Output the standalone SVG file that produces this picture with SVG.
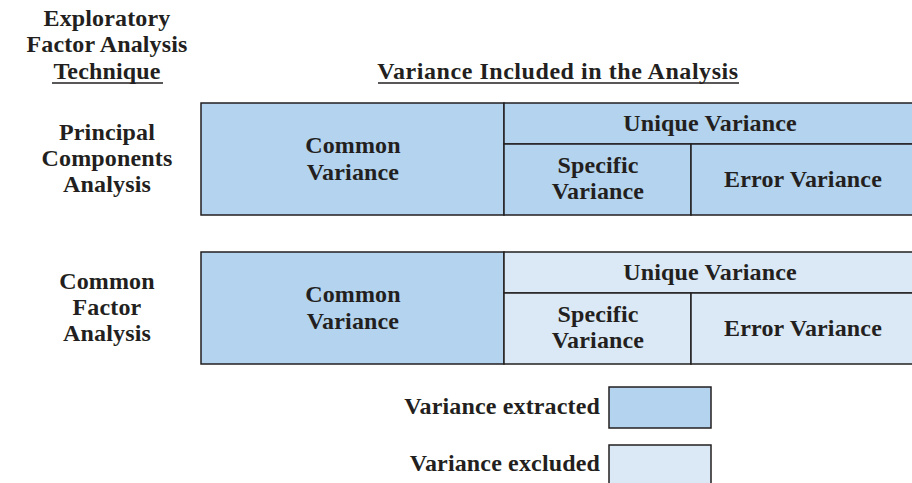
<svg xmlns="http://www.w3.org/2000/svg" width="912" height="483" viewBox="0 0 912 483">
<style>
text{font-family:"Liberation Serif","Times New Roman",serif;font-weight:bold;font-size:24px;letter-spacing:0.15px;fill:#231f20;text-anchor:middle}
.hd{letter-spacing:0.55px}
.ex{fill:#b3d3ee;stroke:#231f20;stroke-width:1.5}
.exc{fill:#dbe9f6;stroke:#231f20;stroke-width:1.5}
.ln{stroke:#231f20;stroke-width:1.5;fill:none}
.r{text-anchor:end}
</style>
<rect width="912" height="483" fill="#ffffff"/>
<g id="header-technique">
<text x="107" y="26">Exploratory</text>
<text x="107" y="52">Factor Analysis</text>
<text x="107" y="79">Technique</text>
<line class="ln" x1="52" y1="83" x2="163" y2="83"/>
</g>
<g id="header-variance">
<text class="hd" x="558" y="79">Variance Included in the Analysis</text>
<line class="ln" x1="378" y1="83" x2="739" y2="83"/>
</g>
<g id="label-pca">
<text x="107" y="140">Principal</text>
<text x="107" y="166">Components</text>
<text x="107" y="192">Analysis</text>
</g>
<g id="label-cfa">
<text x="107" y="289">Common</text>
<text x="107" y="315">Factor</text>
<text x="107" y="341">Analysis</text>
</g>
<g id="pca-common">
<rect class="ex" x="201" y="103" width="303" height="112"/>
<text x="353" y="153">Common</text>
<text x="353" y="180">Variance</text>
</g>
<g id="pca-unique">
<rect class="ex" x="504" y="103" width="412" height="41"/>
<text x="710" y="131">Unique Variance</text>
</g>
<g id="pca-specific">
<rect class="ex" x="504" y="144" width="187" height="71"/>
<text x="598" y="173">Specific</text>
<text x="598" y="199">Variance</text>
</g>
<g id="pca-error">
<rect class="ex" x="691" y="144" width="225" height="71"/>
<text x="803" y="187">Error Variance</text>
</g>
<g id="cfa-common">
<rect class="ex" x="201" y="252" width="303" height="112"/>
<text x="353" y="302">Common</text>
<text x="353" y="329">Variance</text>
</g>
<g id="cfa-unique">
<rect class="exc" x="504" y="252" width="412" height="41"/>
<text x="710" y="280">Unique Variance</text>
</g>
<g id="cfa-specific">
<rect class="exc" x="504" y="293" width="187" height="71"/>
<text x="598" y="322">Specific</text>
<text x="598" y="348">Variance</text>
</g>
<g id="cfa-error">
<rect class="exc" x="691" y="293" width="225" height="71"/>
<text x="803" y="336">Error Variance</text>
</g>
<g id="legend-extracted">
<text class="r" x="600" y="414">Variance extracted</text>
<rect class="ex" x="609" y="387" width="102" height="41"/>
</g>
<g id="legend-excluded">
<text class="r" x="600" y="471">Variance excluded</text>
<rect class="exc" x="609" y="445" width="102" height="45"/>
</g>
<g id="connectors"></g>
</svg>
